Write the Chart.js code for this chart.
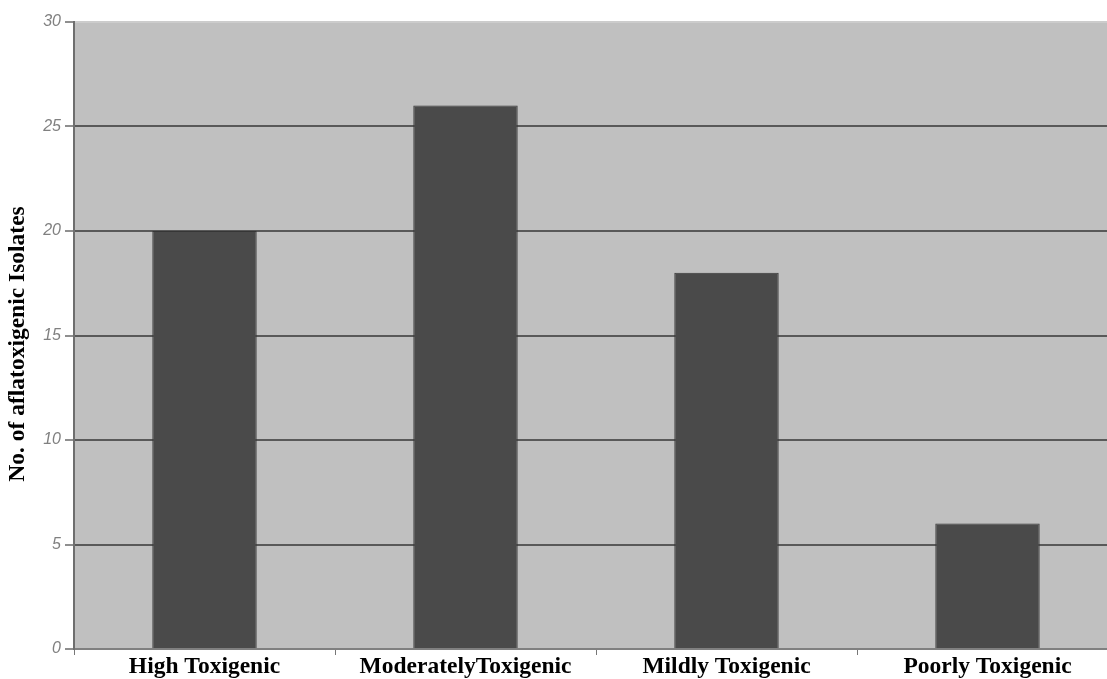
<!DOCTYPE html>
<html>
<head>
<meta charset="utf-8">
<title>Aflatoxigenic isolates</title>
<script src="https://cdn.jsdelivr.net/npm/chart.js@4/dist/chart.umd.min.js"></script>
<style>
  html, body { margin: 0; padding: 0; background: #ffffff; overflow: hidden; }
  #wrap { width: 1120px; height: 679px; }
</style>
</head>
<body>
<div id="wrap"><canvas id="chart" width="1120" height="679"></canvas></div>
<script>
// Isolate counts by toxigenicity class
const categories = ['High Toxigenic', 'ModeratelyToxigenic', 'Mildly Toxigenic', 'Poorly Toxigenic'];
const isolateCounts = [20, 26, 18, 6];
const yTicks = [0, 5, 10, 15, 20, 25, 30];
const yTitle = 'No. of aflatoxigenic Isolates';

// Gray plot background behind the bars
const plotBackground = {
  id: 'plotBackground',
  beforeDraw(chart) {
    const { ctx, chartArea: a } = chart;
    ctx.save();
    ctx.fillStyle = '#c0c0c0';
    ctx.fillRect(a.left, a.top, a.right - a.left, a.bottom - a.top);
    ctx.restore();
  }
};

// Rotated y-axis title
const yAxisTitle = {
  id: 'yAxisTitle',
  afterDraw(chart) {
    const { ctx } = chart;
    ctx.save();
    ctx.translate(18, 344);
    ctx.rotate(-Math.PI / 2);
    ctx.font = 'bold 23.5px "Liberation Serif", "Times New Roman", serif';
    ctx.fillStyle = '#000000';
    ctx.textAlign = 'center';
    ctx.textBaseline = 'middle';
    ctx.fillText(yTitle, 0, 0);
    ctx.restore();
  }
};

new Chart(document.getElementById('chart'), {
  type: 'bar',
  data: {
    labels: categories,
    datasets: [{
      data: isolateCounts,
      backgroundColor: '#4a4a4a',
      borderColor: '#363636',
      borderWidth: 1,
      barPercentage: 0.4,
      categoryPercentage: 1.0
    }]
  },
  options: {
    responsive: false,
    animation: false,
    layout: { padding: { top: 22, right: 2, left: 0, bottom: 0 } },
    plugins: {
      legend: { display: false },
      tooltip: { enabled: false }
    },
    scales: {
      x: {
        grid: {
          offset: true,
          drawOnChartArea: false,
          drawTicks: true,
          tickLength: 6,
          tickColor: '#777777',
          tickWidth: 1
        },
        border: { color: '#808080', width: 2 },
        ticks: {
          color: '#000000',
          padding: 0,
          maxRotation: 0,
          autoSkip: false,
          font: { family: '"Liberation Serif", "Times New Roman", serif', size: 23.5, weight: 'bold', lineHeight: 1 }
        },
        afterFit(scale) { scale.height = 30; }
      },
      y: {
        min: 0,
        max: 30,
        afterBuildTicks(scale) { scale.ticks = yTicks.map(v => ({ value: v })); },
        grid: {
          color: ctx => (ctx.tick && ctx.tick.value === 30) ? '#cccccc' : '#595959',
          lineWidth: 2,
          tickLength: 9,
          tickColor: '#6a6a6a',
          tickWidth: 1.5
        },
        border: { color: '#6e6e6e', width: 2 },
        ticks: {
          color: '#808080',
          padding: 4,
          font: { family: '"Liberation Sans", Arial, sans-serif', size: 16, style: 'italic' }
        },
        afterFit(scale) { scale.width = 74; }
      }
    }
  },
  plugins: [plotBackground, yAxisTitle]
});
</script>
</body>
</html>
